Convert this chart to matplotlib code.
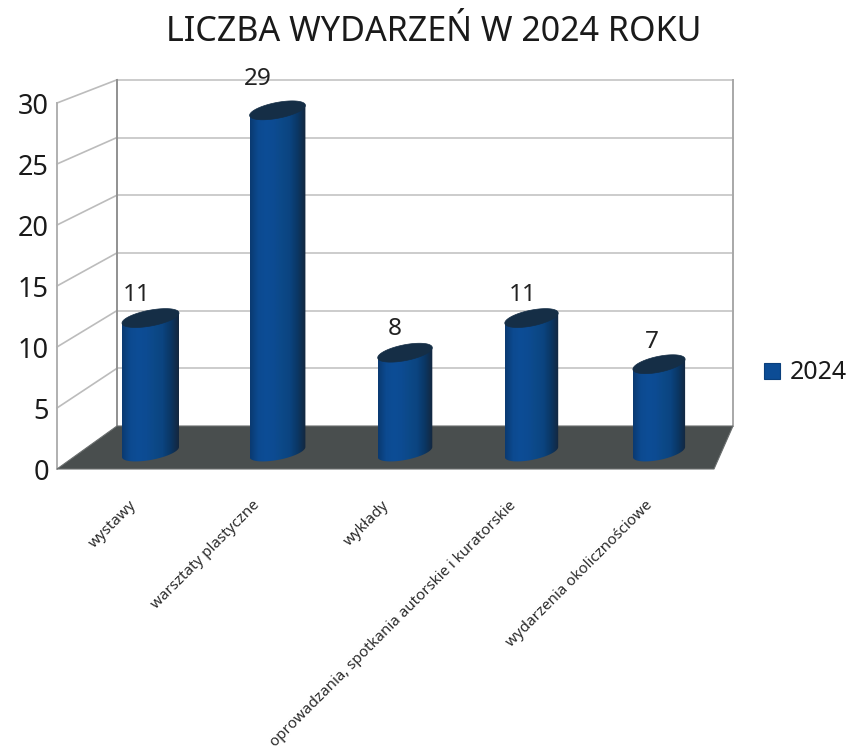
import numpy as np
import matplotlib
matplotlib.use("Agg")
import matplotlib.pyplot as plt
from matplotlib.colors import LinearSegmentedColormap
from matplotlib.patches import Polygon, Rectangle

plt.rcParams["font.family"] = ["Noto Sans", "DejaVu Sans"]

TITLE = "LICZBA WYDARZEŃ W 2024 ROKU"
CATEGORIES = ["wystawy", "warsztaty plastyczne", "wykłady",
              "oprowadzania, spotkania autorskie i kuratorskie",
              "wydarzenia okolicznościowe"]
VALUES = [11, 29, 8, 11, 7]
YTICKS = [0, 5, 10, 15, 20, 25, 30]
SERIES = "2024"

# pixel geometry of the fake 3D box
PX_PER_UNIT = 57.7 / 5
BACK_L, BACK_R, BACK_Y0 = 117, 733, 426
FRONT_L, FRONT_R, FRONT_Y0 = 57, 714, 469
FRONT_PX_PER_UNIT = 61 / 5
BAR_Y0 = 445
# data labels sit a bit off centre in the original
LABEL_DX = [-13.5, -19.5, -10, -9, -7]
LABEL_DY = [23, 31, 24, 23, 22]
CAT_LABEL_X = [134, 257.5, 387, 513.5, 650]
BLUE_CMAP = LinearSegmentedColormap.from_list(
    "cyl", ["#0a3a72", "#0c4a90", "#0d4d96", "#0c4b92", "#0c4988", "#0b4480", "#0a3765", "#14273f"])


def back_y(v):
    return BACK_Y0 - v * PX_PER_UNIT


def front_y(v):
    return FRONT_Y0 - v * FRONT_PX_PER_UNIT


def cylinder(ax, cx, value, r):
    top = BAR_Y0 - value * PX_PER_UNIT
    t = np.linspace(0, 2 * np.pi, 120)
    ex = np.cos(t)
    ey = 8 * np.sin(t) - 5 * np.cos(t)   # sheared ellipse

    # body = bottom half of base ellipse + top ellipse outline
    low = np.sin(t) >= 0
    order = np.argsort(ex[low])
    bx, by = cx + r * ex[low][order], BAR_Y0 + 7 + ey[low][order]
    body = np.column_stack([np.r_[bx, cx + r, cx - r], np.r_[by, top - 5, top + 5]])
    patch = Polygon(body, closed=True, facecolor="none", edgecolor="none", zorder=4)
    ax.add_patch(patch)
    grad = np.linspace(0, 1, 64).reshape(1, -1)
    im = ax.imshow(grad, cmap=BLUE_CMAP, extent=[cx - r, cx + r, BAR_Y0 + 30, top - 20],
                   aspect="auto", zorder=4)
    im.set_clip_path(patch)
    ax.add_patch(Polygon(np.column_stack([cx + r * ex, top + ey]), closed=True,
                         facecolor="#152e46", edgecolor="#152e46", lw=0.5, zorder=5))


fig = plt.figure(figsize=(8.49, 7.53), dpi=100)
ax = fig.add_axes([0, 0, 1, 1])

# walls and gridlines
for v in YTICKS[1:]:
    ax.plot([BACK_L, BACK_R], [back_y(v)] * 2, color="#c8c8c8", lw=1.3, zorder=1)
    ax.plot([FRONT_L, BACK_L], [front_y(v), back_y(v)], color="#bcbcbc", lw=1.2, zorder=1)
ax.plot([BACK_L, BACK_L], [back_y(0), back_y(30)], color="#909090", lw=1.4, zorder=1)
ax.plot([BACK_R, BACK_R], [back_y(0), back_y(30)], color="#a8a8a8", lw=1.4, zorder=1)
ax.plot([FRONT_L, FRONT_L], [front_y(0), front_y(30)], color="#b0b0b0", lw=1.4, zorder=1)

# floor
ax.add_patch(Polygon([(FRONT_L, FRONT_Y0), (BACK_L, BACK_Y0), (BACK_R, BACK_Y0), (FRONT_R, FRONT_Y0)],
                     closed=True, facecolor="#494e4e", edgecolor="#6a6e6e", lw=0.8, zorder=2))

# bars
centers = [150.5, 277.5, 405, 531.5, 659]
for i, (cx, v) in enumerate(zip(centers, VALUES)):
    cylinder(ax, cx, v, 28.5 - 0.6 * i)
    ax.text(cx + LABEL_DX[i], BAR_Y0 - v * PX_PER_UNIT - LABEL_DY[i], str(v),
            ha="center", va="center", fontsize=17.5, color="#222222", zorder=6)

# tick labels
for v in YTICKS:
    ax.text(49, front_y(v) + 4, str(v), ha="right", va="center", fontsize=19.5, color="#1a1a1a")

# rotated category labels, anchored at their upper right end
for x, name in zip(CAT_LABEL_X, CATEGORIES):
    ax.text(x, 503, name, rotation=45, rotation_mode="anchor", ha="right", va="center",
            fontsize=10.9, color="#2a2a2a")

ax.text(434, 32, TITLE, ha="center", va="center", fontsize=24.5, color="#1a1a1a")

# legend
ax.add_patch(Rectangle((764, 363), 16, 16, facecolor="#0c4c95", edgecolor="#0a3f7c", lw=0.8))
ax.text(790, 372, SERIES, ha="left", va="center", fontsize=18, color="#1a1a1a")

ax.set_xlim(0, 849)
ax.set_ylim(753, 0)
ax.axis("off")
fig.savefig("out.png", dpi=100)
